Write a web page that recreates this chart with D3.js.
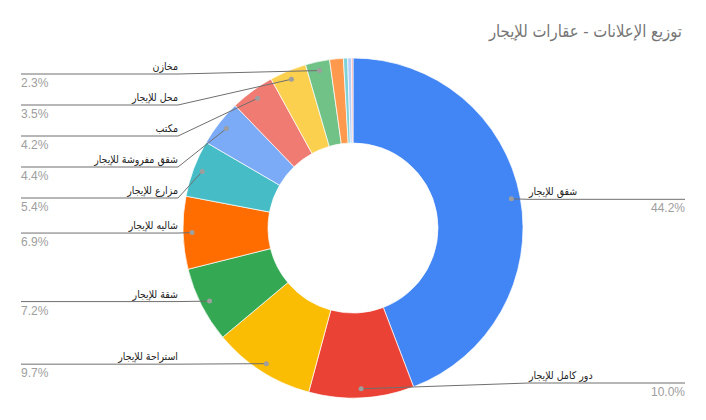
<!DOCTYPE html>
<html>
<head>
<meta charset="utf-8">
<script src="https://cdn.jsdelivr.net/npm/d3@7"></script>
<style>
  body { margin: 0; background: #fff; }
  text { font-family: "Liberation Sans", Arial, "DejaVu Sans", sans-serif; }
  text.ar { font-family: "DejaVu Sans Condensed", "DejaVu Sans", sans-serif; }
</style>
</head>
<body>
<svg id="chart" width="706" height="420"></svg>
<script>
// slices, clockwise from 12 o'clock
var categories = ["شقق للإيجار", "دور كامل للإيجار", "استراحة للإيجار", "شقة للإيجار",
  "شاليه للإيجار", "مزارع للإيجار", "شقق مفروشة للإيجار", "مكتب", "محل للإيجار", "مخازن",
  "أرض للإيجار", "عمارة للإيجار", "غرفة للإيجار", "أخرى"];
var values = [44.2, 10.0, 9.7, 7.2, 6.9, 5.4, 4.4, 4.2, 3.5, 2.3, 1.3, 0.4, 0.35, 0.15];
var colors = ["#4285f4", "#ea4335", "#fbbc04", "#34a853", "#ff6d01", "#46bdc6", "#7baaf7",
  "#f07b72", "#fcd04f", "#71c287", "#ff994d", "#7ed1d7", "#b3cefb", "#f7a7a1"];
var title = "توزيع الإعلانات - عقارات للإيجار";

var svg = d3.select("#chart");
var cx = 353, cy = 228, outer = 170, inner = 85;
var total = d3.sum(values);
var pct = d3.format(".1%");

svg.append("text")
  .attr("class", "ar")
  .attr("x", 682).attr("y", 37)
  .attr("text-anchor", "end")
  .attr("font-size", 16.5)
  .attr("fill", "#757575")
  .text(title);

var pie = d3.pie().sort(null).value(function(d) { return d; });
var arcs = pie(values);
var arc = d3.arc().innerRadius(inner).outerRadius(outer);

var g = svg.append("g").attr("transform", "translate(" + cx + "," + cy + ")");
g.selectAll("path")
  .data(arcs)
  .enter().append("path")
  .attr("d", arc)
  .attr("fill", function(d, i) { return colors[i]; })
  .attr("stroke", "#fff")
  .attr("stroke-width", 0.7);

// labels for slices of 2% and more
var dotR = 161;
var labels = arcs.map(function(d, i) {
  var a = (d.startAngle + d.endAngle) / 2;
  return {
    i: i, a: a,
    x: cx + dotR * Math.sin(a),
    y: cy - dotR * Math.cos(a),
    left: a > Math.PI
  };
}).filter(function(d) { return values[d.i] / total >= 0.02; });

var leftL = labels.filter(function(d) { return d.left; })
  .sort(function(a, b) { return a.y - b.y; });
var prev = -Infinity;
leftL.forEach(function(d) {
  d.ly = Math.max(d.y + 0.5, prev + 31, 74);
  prev = d.ly;
});
var rightL = labels.filter(function(d) { return !d.left; })
  .sort(function(a, b) { return b.y - a.y; });
var next = Infinity;
rightL.forEach(function(d) {
  d.ly = Math.min(d.y + 0.5, next - 31, 383);
  next = d.ly;
});

var lab = svg.append("g").selectAll("g")
  .data(labels)
  .enter().append("g");

lab.append("polyline")
  .attr("points", function(d) {
    var ex = d.left ? 178 : 529, fx = d.left ? 21 : 685;
    return [[d.x, d.y], [ex, d.ly], [fx, d.ly]].join(" ");
  })
  .attr("fill", "none")
  .attr("stroke", "#6f6f6f")
  .attr("stroke-width", 1);

lab.append("circle")
  .attr("cx", function(d) { return d.x; })
  .attr("cy", function(d) { return d.y; })
  .attr("r", 2.5)
  .attr("fill", "#9e9e9e");

lab.append("text")
  .attr("class", "ar")
  .attr("x", function(d) { return d.left ? 178 : 529; })
  .attr("y", function(d) { return d.ly - 4; })
  .attr("text-anchor", function(d) { return d.left ? "end" : "start"; })
  .attr("font-size", 10.5)
  .attr("fill", "#222")
  .text(function(d) { return categories[d.i]; });

lab.append("text")
  .attr("x", function(d) { return d.left ? 21 : 685; })
  .attr("y", function(d) { return d.ly + 13; })
  .attr("text-anchor", function(d) { return d.left ? "start" : "end"; })
  .attr("font-size", 12)
  .attr("fill", "#9e9e9e")
  .text(function(d) { return pct(values[d.i] / total); });
</script>
</body>
</html>
